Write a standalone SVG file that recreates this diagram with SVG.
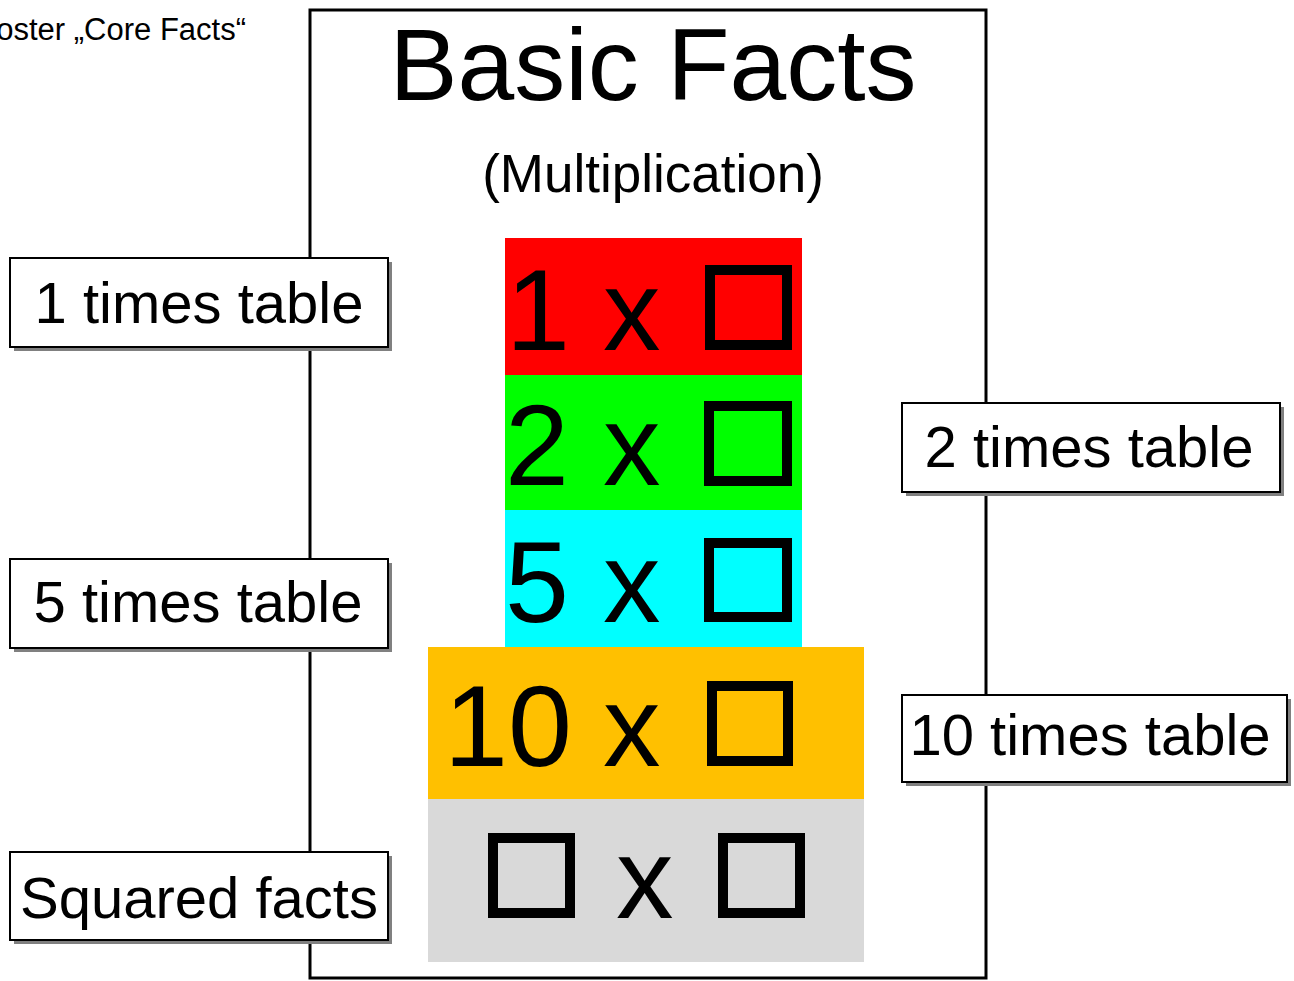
<svg xmlns="http://www.w3.org/2000/svg" width="1294" height="981" viewBox="0 0 1294 981">
  <style>
    text { font-family: "Liberation Sans", Arial, sans-serif; fill: #000; }
    .big { font-size: 115px; }
    .lbl { font-size: 58px; text-anchor: middle; }
    .box { fill: #fff; stroke: #000; stroke-width: 2; }
    .shadow { fill: #808080; }
    .sq { fill: none; stroke: #000; stroke-width: 10; }
  </style>

  <!-- caption, partly outside the page -->
  <text x="246" y="40" font-size="31" text-anchor="end">Poster „Core Facts“</text>

  <!-- poster frame -->
  <rect id="frame" x="310" y="10" width="676" height="968" fill="#fff" stroke="#000" stroke-width="3"/>

  <g id="title">
    <text x="653" y="100" font-size="102" text-anchor="middle">Basic Facts</text>
    <text x="653" y="192" font-size="53" text-anchor="middle">(Multiplication)</text>
  </g>

  <!-- stacked fact rows -->
  <g id="row-1">
    <rect x="505" y="238" width="297" height="137" fill="#ff0000"/>
    <text class="big" x="506" y="350">1</text>
    <text class="big" x="603" y="350">x</text>
    <rect class="sq" x="710" y="270" width="77" height="75"/>
  </g>
  <g id="row-2">
    <rect x="505" y="375" width="297" height="135" fill="#00ff00"/>
    <text class="big" x="505" y="485">2</text>
    <text class="big" x="603" y="485">x</text>
    <rect class="sq" x="709" y="406" width="78" height="75"/>
  </g>
  <g id="row-5">
    <rect x="505" y="510" width="297" height="137" fill="#00ffff"/>
    <text class="big" x="505" y="622">5</text>
    <text class="big" x="603" y="622">x</text>
    <rect class="sq" x="709" y="543" width="78" height="74"/>
  </g>
  <g id="row-10">
    <rect x="428" y="647" width="436" height="152" fill="#ffc000"/>
    <text class="big" x="444" y="766">10</text>
    <text class="big" x="603" y="766">x</text>
    <rect class="sq" x="712" y="686" width="76" height="75"/>
  </g>
  <g id="row-squared">
    <rect x="428" y="799" width="436" height="163" fill="#d9d9d9"/>
    <rect class="sq" x="493" y="838" width="77" height="75"/>
    <text class="big" x="616" y="918">x</text>
    <rect class="sq" x="723" y="838" width="77" height="75"/>
  </g>

  <!-- side labels -->
  <g id="label-1">
    <rect class="shadow" x="14" y="262" width="378" height="89"/>
    <rect class="box" x="10" y="258" width="378" height="89"/>
    <text class="lbl" x="199" y="323">1 times table</text>
  </g>
  <g id="label-2">
    <rect class="shadow" x="906" y="407" width="378" height="89"/>
    <rect class="box" x="902" y="403" width="378" height="89"/>
    <text class="lbl" x="1089" y="467">2 times table</text>
  </g>
  <g id="label-5">
    <rect class="shadow" x="14" y="563" width="378" height="89"/>
    <rect class="box" x="10" y="559" width="378" height="89"/>
    <text class="lbl" x="198" y="622">5 times table</text>
  </g>
  <g id="label-10">
    <rect class="shadow" x="906" y="699" width="385" height="87"/>
    <rect class="box" x="902" y="695" width="385" height="87"/>
    <text class="lbl" x="1090" y="755">10 times table</text>
  </g>
  <g id="label-squared">
    <rect class="shadow" x="14" y="856" width="378" height="88"/>
    <rect class="box" x="10" y="852" width="378" height="88"/>
    <text class="lbl" x="199" y="918">Squared facts</text>
  </g>

  <g id="connectors"/>
</svg>
